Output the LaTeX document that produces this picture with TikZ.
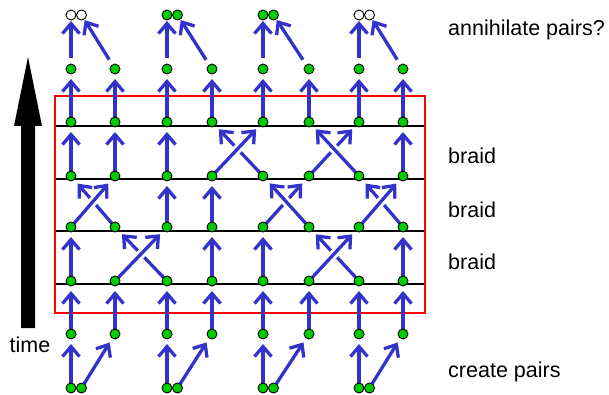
\documentclass[tikz,border=0pt]{standalone}
\usepackage{fontspec}
\setmainfont{Liberation Sans}
\usetikzlibrary{arrows.meta,calc}
\definecolor{arrblue}{RGB}{51,51,204}
\definecolor{dotgreen}{RGB}{0,204,0}
\begin{document}
\begin{tikzpicture}[x=1pt,y=-1pt,
  dot/.style={circle,draw=black,line width=0.9pt,fill=dotgreen,minimum size=10pt,inner sep=0pt},
  hole/.style={dot,fill=white},
  arr/.style={draw=arrblue,line width=3.3pt,-{Straight Barb[length=10pt,width=17pt]},shorten >=10pt},
  toparr/.style={arr,shorten <=11pt,shorten >=6pt},
  gapline/.style={draw=white,line width=9pt},
  lbl/.style={anchor=base west,font=\fontsize{21.5}{25}\selectfont,inner sep=0pt},
  layerline/.style={draw=black,line width=1.3pt},
  frame/.style={draw=red,line width=2.8pt},
  timearrow/.style={fill=black}]
\useasboundingbox (0,0) rectangle (609,395);
% coordinates of the dot grid
\foreach \r/\y in {A/69,B/122,C/176,D/227,E/281,F/334}{
  \foreach \c/\x in {1/71,2/115,3/167,4/212,5/263,6/309,7/359,8/403}{
    \coordinate (\r\c) at (\x,\y);
  }
}
% pairs
\foreach \p/\x in {1/71,2/167,3/263,4/359}{
  \coordinate (PL\p) at (\x,15);
  \coordinate (PR\p) at (\x+10.5,15);
  \coordinate (QL\p) at (\x,388);
  \coordinate (QR\p) at (\x+10.5,388);
}
% layer lines
\foreach \y [count=\i] in {126,179,231,284}{
  \coordinate (ll\i) at (55,\y);
  \coordinate (lr\i) at (425,\y);
  \draw[layerline] (ll\i) -- (lr\i);
}
% frame
\coordinate (fa) at (55,96);
\coordinate (fb) at (425,313);
\draw[frame] (fa) rectangle (fb);
% big time arrow
\fill[timearrow] (21,328) -- (21,126) -- (14,126) -- (28,57) -- (42,126) -- (35,126) -- (35,328) -- cycle;
\node[lbl,anchor=base] (time) at (30,352) {time};
% create pairs
\foreach \p/\a/\b in {1/1/2,2/3/4,3/5/6,4/7/8}{
  \draw[arr] (QL\p) -- (F\a);
  \draw[arr] (QR\p) -- (F\b);
}
% F -> E vertical
\foreach \c in {1,...,8}{ \draw[arr] (F\c) -- (E\c); }
% E -> D
\foreach \c in {1,4,5,8}{ \draw[arr] (E\c) -- (D\c); }
\draw[arr] (E3) -- (D2);
\draw[gapline] ($(E2)!0.35!(D3)$) -- ($(E2)!0.62!(D3)$);
\draw[arr] (E2) -- (D3);
\draw[arr] (E7) -- (D6);
\draw[gapline] ($(E6)!0.35!(D7)$) -- ($(E6)!0.62!(D7)$);
\draw[arr] (E6) -- (D7);
% D -> C
\foreach \c in {3,4}{ \draw[arr] (D\c) -- (C\c); }
\draw[arr] (D2) -- (C1);
\draw[gapline] ($(D1)!0.35!(C2)$) -- ($(D1)!0.62!(C2)$);
\draw[arr] (D1) -- (C2);
\draw[arr] (D5) -- (C6);
\draw[gapline] ($(D6)!0.35!(C5)$) -- ($(D6)!0.62!(C5)$);
\draw[arr] (D6) -- (C5);
\draw[arr] (D8) -- (C7);
\draw[gapline] ($(D7)!0.35!(C8)$) -- ($(D7)!0.62!(C8)$);
\draw[arr] (D7) -- (C8);
% C -> B
\foreach \c in {1,2,3,8}{ \draw[arr] (C\c) -- (B\c); }
\draw[arr] (C5) -- (B4);
\draw[gapline] ($(C4)!0.35!(B5)$) -- ($(C4)!0.62!(B5)$);
\draw[arr] (C4) -- (B5);
\draw[arr] (C6) -- (B7);
\draw[gapline] ($(C7)!0.35!(B6)$) -- ($(C7)!0.62!(B6)$);
\draw[arr] (C7) -- (B6);
% B -> A
\foreach \c in {1,...,8}{ \draw[arr] (B\c) -- (A\c); }
% A -> annihilate pairs
\foreach \p/\a/\b in {1/1/2,2/3/4,3/5/6,4/7/8}{
  \draw[toparr] (A\a) -- (PL\p);
  \draw[toparr] (A\b) -- (PR\p);
}
% dots
\foreach \r in {A,B,C,D,E,F}{
  \foreach \c in {1,...,8}{ \node[dot] (d\r\c) at (\r\c) {}; }
}
\foreach \p in {1,...,4}{
  \node[dot] (dQL\p) at (QL\p) {};
  \node[dot] (dQR\p) at (QR\p) {};
}
\foreach \p/\s in {1/hole,2/dot,3/dot,4/hole}{
  \node[\s] (dPL\p) at (PL\p) {};
  \node[\s] (dPR\p) at (PR\p) {};
}
% labels
\node[lbl] (ann) at (448,36) {annihilate pairs?};
\node[lbl] (br1) at (448,164) {braid};
\node[lbl] (br2) at (448,217) {braid};
\node[lbl] (br3) at (448,269) {braid};
\node[lbl] (cre) at (448,377) {create pairs};
\end{tikzpicture}
\end{document}
